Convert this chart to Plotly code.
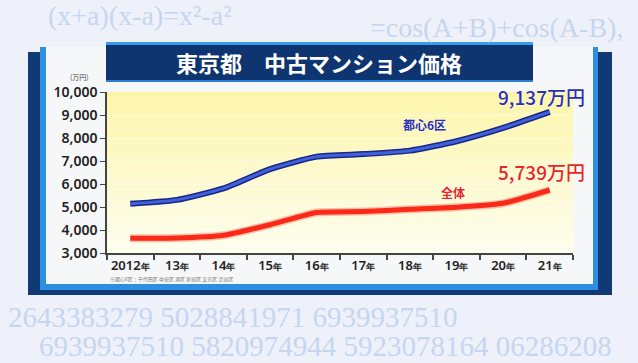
import plotly.graph_objects as go

# ---- data ----
years = ["2012", "13", "14", "15", "16", "17", "18", "19", "20", "21"]
central6 = [5140, 5310, 5810, 6650, 7190, 7300, 7450, 7860, 8440, 9137]
overall = [3640, 3650, 3770, 4230, 4760, 4800, 4900, 4990, 5160, 5739]
yticks = [3000, 4000, 5000, 6000, 7000, 8000, 9000, 10000]
title = "東京都　中古マンション価格"
label_central = "都心6区"
label_overall = "全体"
last_central = "9,137万円"
last_overall = "5,739万円"
unit = "(万円)"
footnote = "※都心6区：千代田区 中央区 港区 新宿区 文京区 渋谷区"
bg_top1 = "(x+a)(x-a)=x²-a²"
bg_top2 = "=cos(A+B)+cos(A-B),"
bg_bot1 = "2643383279 5028841971 6939937510"
bg_bot2 = "6939937510 5820974944 5923078164 06286208"

W, H = 638, 363
ML, MR, MT, MB = 107, 65, 92, 110
PW, PH = W - ML - MR, H - MT - MB


def px(x):
    return (x - ML) / PW


def py(y):
    return (H - MB - y) / PH


xs = list(range(len(years)))
ticktext = [f"{y}<span style='font-size:9px'>年</span>" for y in years]

fig = go.Figure()
# blue line: dark outline + lighter core
fig.add_trace(go.Scatter(x=xs, y=central6, mode="lines",
                         line=dict(color="#1a2688", width=6, shape="spline", smoothing=0.5),
                         hoverinfo="skip", showlegend=False))
fig.add_trace(go.Scatter(x=xs, y=central6, mode="lines",
                         line=dict(color="#3f62d8", width=3, shape="spline", smoothing=0.5),
                         showlegend=False))
# red line with glow
fig.add_trace(go.Scatter(x=xs, y=overall, mode="lines",
                         line=dict(color="rgba(255,80,60,0.35)", width=8, shape="spline", smoothing=0.5),
                         hoverinfo="skip", showlegend=False))
fig.add_trace(go.Scatter(x=xs, y=overall, mode="lines",
                         line=dict(color="#fa2a18", width=5, shape="spline", smoothing=0.5),
                         showlegend=False))

shapes = []
# navy frame
shapes.append(dict(type="rect", xref="paper", yref="paper", x0=px(28), x1=px(612), y0=py(295), y1=py(52),
                   fillcolor="#0f3a76", line=dict(width=0), layer="below"))
# light blue strips
shapes.append(dict(type="rect", xref="paper", yref="paper", x0=px(40), x1=px(598), y0=py(290), y1=py(47),
                   fillcolor="#2e8fe2", line=dict(width=0), layer="below"))
# white panel
shapes.append(dict(type="rect", xref="paper", yref="paper", x0=px(46), x1=px(593), y0=py(284), y1=py(47),
                   fillcolor="#f6f7f9", line=dict(width=0), layer="below"))
# plot-area yellow gradient
n = 30
for i in range(n):
    t = i / (n - 1)
    r = 253
    g = int(246 + (254 - 246) * t)
    b = int(170 + (238 - 170) * t)
    shapes.append(dict(type="rect", xref="paper", yref="paper", x0=0, x1=1,
                       y0=1 - (i + 1) / n, y1=1 - i / n,
                       fillcolor=f"rgb({r},{g},{b})", line=dict(width=0), layer="below"))
# title banner
shapes.append(dict(type="rect", xref="paper", yref="paper", x0=px(106), x1=px(533), y0=py(82), y1=py(42),
                   fillcolor="#0e3570", line=dict(width=0), layer="above"))
shapes.append(dict(type="rect", xref="paper", yref="paper", x0=px(106), x1=px(533), y0=py(45), y1=py(42),
                   fillcolor="#3a9ce8", line=dict(width=0), layer="above"))
shapes.append(dict(type="rect", xref="paper", yref="paper", x0=px(106), x1=px(533), y0=py(82), y1=py(80),
                   fillcolor="#2a7fd0", line=dict(width=0), layer="above"))

annotations = []
bgc = "#c6d6f0"
annotations.append(dict(text=bg_top1, xref="paper", yref="paper", x=px(46), y=py(15), xanchor="left",
                        yanchor="middle", showarrow=False,
                        font=dict(family="Liberation Serif", size=28, color=bgc)))
annotations.append(dict(text=bg_top2, xref="paper", yref="paper", x=px(368), y=py(27), xanchor="left",
                        yanchor="middle", showarrow=False,
                        font=dict(family="Liberation Serif", size=28, color=bgc)))
annotations.append(dict(text=bg_bot1, xref="paper", yref="paper", x=px(6), y=py(317), xanchor="left",
                        yanchor="middle", showarrow=False,
                        font=dict(family="Liberation Serif", size=29, color=bgc)))
annotations.append(dict(text=bg_bot2, xref="paper", yref="paper", x=px(37), y=py(346), xanchor="left",
                        yanchor="middle", showarrow=False,
                        font=dict(family="Liberation Serif", size=29, color=bgc)))
annotations.append(dict(text=title, xref="paper", yref="paper", x=px(319), y=py(62), xanchor="center",
                        yanchor="middle", showarrow=False,
                        font=dict(family="Noto Sans CJK JP", size=22, color="white", weight=700)))
annotations.append(dict(text=unit, xref="paper", yref="paper", x=px(91), y=py(77), xanchor="right",
                        yanchor="middle", showarrow=False,
                        font=dict(family="Noto Sans CJK JP", size=7, color="#444")))
annotations.append(dict(text=footnote, xref="paper", yref="paper", x=px(108), y=py(279), xanchor="left",
                        yanchor="middle", showarrow=False,
                        font=dict(family="Noto Sans CJK JP", size=5, color="#777")))
annotations.append(dict(text=last_central, x=xs[-1], y=central6[-1], xanchor="right", yanchor="bottom",
                        xshift=37, yshift=0, showarrow=False,
                        font=dict(family="Noto Sans CJK JP", size=19, color="#2b2fb4", weight=500,
                                  shadow="0px 0px 2px white")))
annotations.append(dict(text=last_overall, x=xs[-1], y=overall[-1], xanchor="right", yanchor="bottom",
                        xshift=37, yshift=3, showarrow=False,
                        font=dict(family="Noto Sans CJK JP", size=19, color="#e8262a", weight=500,
                                  shadow="0px 0px 2px white")))
annotations.append(dict(text=label_central, x=xs[6], y=central6[6], xanchor="center", yanchor="bottom",
                        xshift=15, yshift=16, showarrow=False,
                        font=dict(family="Noto Sans CJK JP", size=12, color="#2b2fb4", weight=700,
                                  shadow="0px 0px 2px white")))
annotations.append(dict(text=label_overall, x=xs[7], y=overall[7], xanchor="center", yanchor="bottom",
                        xshift=-4, yshift=4, showarrow=False,
                        font=dict(family="Noto Sans CJK JP", size=12, color="#e8262a", weight=700,
                                  shadow="0px 0px 2px white")))

fig.update_layout(
    width=W, height=H,
    margin=dict(l=ML, r=MR, t=MT, b=MB, pad=0),
    paper_bgcolor="#eef1fa",
    plot_bgcolor="rgba(0,0,0,0)",
    shapes=shapes,
    annotations=annotations,
    xaxis=dict(type="linear", range=[-0.5, len(years) - 0.5], tickvals=xs, ticktext=ticktext,
               showgrid=False, zeroline=False, showline=True, linecolor="#444", linewidth=1.5,
               ticks="", tickfont=dict(family="Noto Sans", size=13, color="#222", weight=600),
               fixedrange=True),
    yaxis=dict(range=[3000, 10000], tickvals=yticks, tickformat=",d",
               showgrid=True, gridcolor="rgba(255,255,255,0.45)", gridwidth=1, zeroline=False,
               showline=True, linecolor="#444", linewidth=1.5,
               ticks="outside", ticklen=5, tickcolor="#444",
               tickfont=dict(family="Noto Sans", size=14, color="#222", weight=600)),
)
# x-axis boundary ticks as a minor tick set
fig.update_xaxes(minor=dict(tickvals=[i - 0.5 for i in range(len(years) + 1)], ticks="outside",
                            ticklen=5, tickcolor="#444", tickwidth=1.5, showgrid=False))
fig.write_html("out.html", config={"displayModeBar": False},
               post_script="document.body.style.margin='0';document.body.style.background='#eef1fa';")
